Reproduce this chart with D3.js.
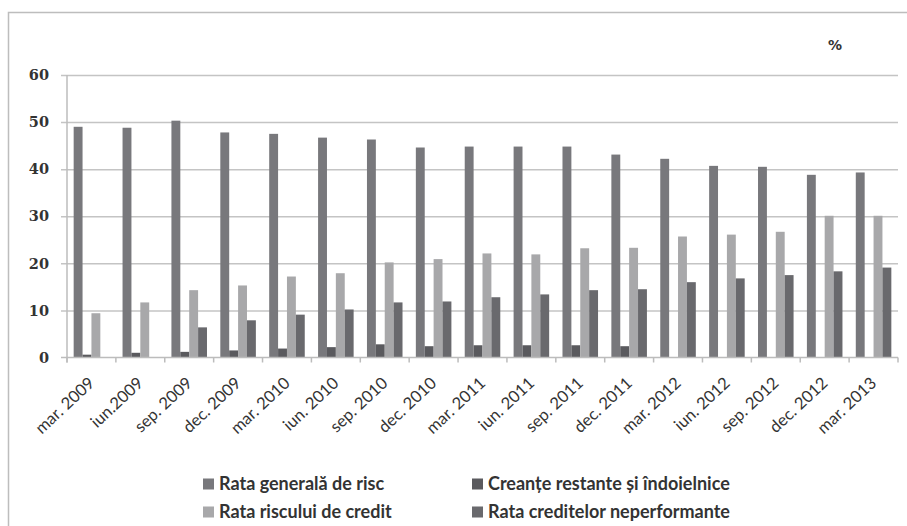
<!DOCTYPE html>
<html>
<head>
<meta charset="utf-8">
<script src="https://cdn.jsdelivr.net/npm/d3@7"></script>
<style>
  html, body { margin: 0; padding: 0; background: #fff; }
  svg { display: block; }
</style>
</head>
<body>
<svg id="chart" width="907" height="526"></svg>
<script>
// Quarterly periods
const categories = ["mar. 2009", "iun.2009", "sep. 2009", "dec. 2009", "mar. 2010", "iun. 2010",
  "sep. 2010", "dec. 2010", "mar. 2011", "iun. 2011", "sep. 2011", "dec. 2011",
  "mar. 2012", "iun. 2012", "sep. 2012", "dec. 2012", "mar. 2013"];

const seriesNames = ["Rata generală de risc", "Creanțe restante și îndoielnice",
  "Rata riscului de credit", "Rata creditelor neperformante"];

// Values in percent (null = no bar)
const rataGenerala = [49.0, 48.8, 50.3, 47.8, 47.5, 46.7, 46.3, 44.6, 44.8, 44.8, 44.8, 43.1,
  42.2, 40.7, 40.5, 38.8, 39.3];
const creanteRestante = [0.6, 1.0, 1.2, 1.5, 1.9, 2.2, 2.8, 2.4, 2.6, 2.6, 2.6, 2.4,
  null, null, null, null, null];
const rataRiscCredit = [9.4, 11.7, 14.3, 15.3, 17.2, 17.9, 20.2, 20.9, 22.1, 21.9, 23.2, 23.3,
  25.7, 26.1, 26.7, 30.1, 30.1];
const rataNeperformante = [null, null, 6.4, 7.9, 9.1, 10.2, 11.7, 11.9, 12.8, 13.4, 14.3, 14.5,
  16.0, 16.8, 17.5, 18.3, 19.1];

const yTicks = [0, 10, 20, 30, 40, 50, 60];
const seriesColors = ["#78787c", "#5a5a5e", "#a8a8aa", "#69696d"];

const seriesValues = [rataGenerala, creanteRestante, rataRiscCredit, rataNeperformante];

const svg = d3.select("#chart");

// outer chart frame (extends past the right and bottom edges)
svg.append("rect")
  .attr("x", 8.5).attr("y", 12.5)
  .attr("width", 1000).attr("height", 1000)
  .attr("fill", "none").attr("stroke", "#bdbdbd").attr("stroke-width", 1.5);

const plot = { left: 67, right: 898, top: 75, bottom: 357.5 };

const x = d3.scaleBand().domain(categories).range([plot.left, plot.right]).padding(0);
const bw = x.bandwidth();
const slot = bw / 5.5;
const x1 = d3.scaleBand().domain(d3.range(seriesNames.length))
  .range([0.75 * slot, bw - 0.75 * slot]).padding(0);
const y = d3.scaleLinear().domain([0, 60]).range([plot.bottom, plot.top]);

// gridlines with left tick marks
const gy = svg.append("g").attr("transform", `translate(${plot.right},0)`)
  .call(d3.axisLeft(y).tickValues(yTicks.filter(v => v > 0))
    .tickSize(plot.right - plot.left + 6).tickFormat(""));
gy.select(".domain").remove();
gy.selectAll(".tick line").attr("stroke", "#c4c4c4").attr("stroke-width", 1.5);

// y tick labels
svg.append("g").selectAll("text").data(yTicks).join("text")
  .attr("x", 49).attr("y", d => y(d))
  .attr("dy", "0.36em")
  .attr("text-anchor", "end")
  .attr("font-family", "DejaVu Serif")
  .attr("font-weight", "bold")
  .attr("font-size", 14.5)
  .attr("fill", "#333")
  .text(d => d);

// bars
const groups = svg.append("g").selectAll("g").data(categories).join("g")
  .attr("transform", d => `translate(${x(d)},0)`);
groups.selectAll("rect")
  .data((c, i) => seriesValues.map((vals, s) => ({ s, v: vals[i] })).filter(d => d.v != null))
  .join("rect")
  .attr("x", d => x1(d.s))
  .attr("width", x1.bandwidth())
  .attr("y", d => y(d.v))
  .attr("height", d => y(0) - y(d.v))
  .attr("fill", d => seriesColors[d.s]);

// left axis line
svg.append("line")
  .attr("x1", plot.left).attr("x2", plot.left)
  .attr("y1", plot.top).attr("y2", plot.bottom + 5)
  .attr("stroke", "#bcbcbc").attr("stroke-width", 1.5);

// bottom axis with category boundary ticks
svg.append("line")
  .attr("x1", plot.left - 6).attr("x2", plot.right)
  .attr("y1", plot.bottom).attr("y2", plot.bottom)
  .attr("stroke", "#bcbcbc").attr("stroke-width", 1.5);
const boundaries = categories.map(c => x(c)).concat([plot.right]);
svg.append("g").selectAll("line").data(boundaries).join("line")
  .attr("x1", d => d).attr("x2", d => d)
  .attr("y1", plot.bottom).attr("y2", plot.bottom + 5)
  .attr("stroke", "#bcbcbc").attr("stroke-width", 1.5);

// category labels rotated
svg.append("g").selectAll("text").data(categories).join("text")
  .attr("transform", d => `translate(${x(d) + bw / 2 + 4},${plot.bottom + 27}) rotate(-43)`)
  .attr("text-anchor", "end")
  .attr("font-family", "Lato")
  .attr("font-size", 16.5)
  .attr("fill", "#333")
  .text(d => d);

// unit label
svg.append("text")
  .attr("x", 835).attr("y", 50)
  .attr("text-anchor", "middle")
  .attr("font-family", "DejaVu Sans")
  .attr("font-weight", "bold")
  .attr("font-size", 14)
  .attr("fill", "#333")
  .text("%");

// legend
const legendPos = [[203, 484], [472, 484], [203, 512], [472, 512]];
const legend = svg.append("g").selectAll("g").data(seriesNames).join("g")
  .attr("transform", (d, i) => `translate(${legendPos[i][0]},${legendPos[i][1]})`);
legend.append("rect")
  .attr("x", 0).attr("y", -5.5).attr("width", 11).attr("height", 11)
  .attr("fill", (d, i) => seriesColors[i]);
legend.append("text")
  .attr("x", 16).attr("y", 0).attr("dy", "0.36em")
  .attr("font-family", "Lato")
  .attr("font-weight", "bold")
  .attr("font-size", 18)
  .attr("fill", "#333")
  .text(d => d);
</script>
</body>
</html>
